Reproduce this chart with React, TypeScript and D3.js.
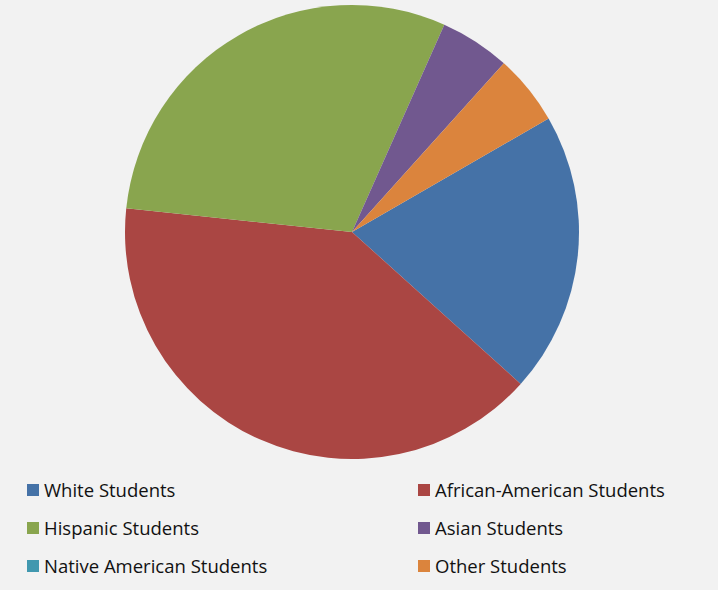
import React, { useEffect, useRef } from 'react';
import * as d3 from 'd3';

const categories = [
  'White Students',
  'African-American Students',
  'Hispanic Students',
  'Asian Students',
  'Native American Students',
  'Other Students',
];
const shares = [20, 40, 30, 5, 0, 5];
const colors = ['#4572A7', '#AA4643', '#89A54E', '#71588F', '#4198AF', '#DB843D'];

const width = 718;
const height = 590;

export default function App() {
  const pieRef = useRef<SVGGElement>(null);
  const legendRef = useRef<SVGGElement>(null);

  useEffect(() => {
    const rows = categories.map((name, i) => ({ name, value: shares[i], color: colors[i] }));

    // first slice starts at 60 degrees, clockwise like the spreadsheet
    const start = (60 * Math.PI) / 180;
    const pie = d3
      .pie<any>()
      .sort(null)
      .value(d => d.value)
      .startAngle(start)
      .endAngle(start + 2 * Math.PI);
    const arc = d3.arc<any>().innerRadius(0).outerRadius(227);

    d3.select(pieRef.current)
      .selectAll('path')
      .data(pie(rows))
      .join('path')
      .attr('d', arc)
      .attr('fill', d => d.data.color);

    const col = d3.scaleOrdinal<number, number>().domain([0, 1]).range([27, 418]);
    const row = d3.scaleLinear().domain([0, 2]).range([490, 566]);

    const items = d3
      .select(legendRef.current)
      .selectAll('g')
      .data(rows)
      .join('g')
      .attr('transform', (d, i) => `translate(${col(i % 2)},${row(Math.floor(i / 2))})`);

    items
      .append('rect')
      .attr('x', 0)
      .attr('y', -6)
      .attr('width', 12)
      .attr('height', 12)
      .attr('fill', d => d.color);

    items
      .append('text')
      .attr('x', 17)
      .attr('y', 6.5)
      .attr('font-family', '"Open Sans", sans-serif')
      .attr('font-size', 18.5)
      .attr('fill', '#111')
      .text(d => d.name);
  }, []);

  return (
    <svg
      width={width}
      height={height}
      style={{ position: 'absolute', left: 0, top: 0, background: '#F2F2F2' }}
    >
      <g ref={pieRef} transform="translate(352,232)"></g>
      <g ref={legendRef}></g>
    </svg>
  );
}
